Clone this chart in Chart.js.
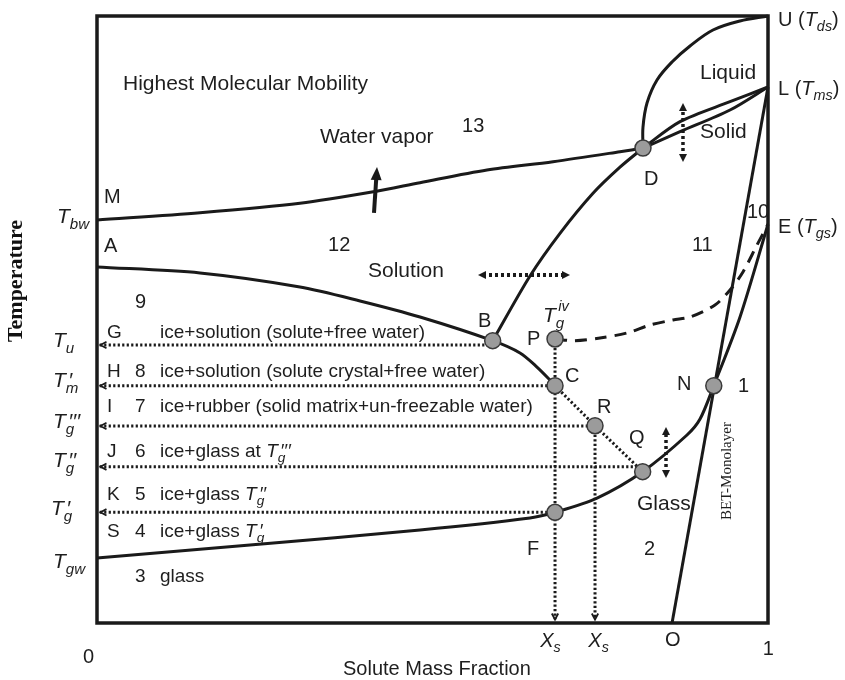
<!DOCTYPE html>
<html><head><meta charset="utf-8">
<script src="https://cdn.jsdelivr.net/npm/chart.js@4.4.0/dist/chart.umd.min.js"></script>
<style>html,body{margin:0;padding:0;background:#fff;}</style>
</head><body>
<canvas id="c" width="845" height="680" style="display:block"></canvas>
<script>
// ---------- DATA (x = solute mass fraction 0..1, y = relative temperature 0..100) ----------
const vaporX = [0, 0.1535, 0.3025, 0.4128, 0.4814, 0.5812, 0.6796, 0.7794, 0.8137];
const vaporY = [66.39, 67.59, 69.14, 71.05, 72.54, 74.63, 76.0, 77.64, 78.25];
const iceX = [0, 0.1535, 0.3025, 0.392, 0.4814, 0.5897, 0.6304, 0.6557, 0.6751, 0.6826];
const iceY = [58.65, 57.66, 55.35, 53.05, 50.41, 46.51, 44.48, 42.17, 40.03, 39.09];
const solX = [0.5897, 0.6453, 0.6900, 0.7392, 0.7794, 0.8137];
const solY = [46.51, 57.17, 64.2, 70.8, 75.1, 78.25];
const liqX = [0.8137, 0.8137, 0.8197, 0.8346, 0.8569, 0.8838, 0.9180, 0.9583, 1.0];
const liqY = [78.25, 81.71, 85.67, 89.46, 92.42, 95.06, 97.69, 99.18, 100];
const meltUpX = [0.8137, 0.8689, 0.9434, 1.0];
const meltUpY = [78.25, 82.59, 85.88, 88.3];
const meltLoX = [0.8137, 0.8689, 0.9434, 1.0];
const meltLoY = [78.25, 80.94, 84.51, 88.3];
const betX = [0.857, 1.0];
const betY = [0, 88.3];
const glassX = [0, 0.228, 0.4814, 0.6453, 0.6826, 0.7452, 0.8132, 0.8793, 0.8987, 0.9192, 0.9583, 1.0];
const glassY = [10.71, 12.85, 15.32, 17.30, 18.24, 20.59, 24.93, 30.97, 33.6, 39.09, 50.41, 65.7];
const tgivX = [0.6826, 0.7124, 0.7496, 0.7899, 0.8241, 0.8584, 0.8838, 0.9210, 0.9434, 0.9627, 0.9836, 1.0];
const tgivY = [46.79, 46.51, 46.95, 47.78, 49.09, 49.92, 50.41, 52.39, 54.86, 57.83, 62.27, 65.7];
// key points B, P, C, R, Q, F, N, D
const ptX = [0.5897, 0.6826, 0.6826, 0.7422, 0.8132, 0.6826, 0.9192, 0.8137];
const ptY = [46.51, 46.79, 39.09, 32.50, 24.93, 18.24, 39.09, 78.25];
// dotted guide lines: horizontal (to the temperature axis)
const guideY = [45.8, 39.09, 32.45, 25.75, 18.24];
const guideXEnd = [0.5897, 0.6826, 0.7422, 0.8132, 0.6826];
// vertical guides (to X_s)
const vGuideX = [0.6826, 0.7422];
const vGuideYTop = [46.79, 32.50];
// diagonal C -> R -> Q
const diagX = [0.6826, 0.7422, 0.8132];
const diagY = [39.09, 32.50, 24.93];
// arrows
const upArrow = [[0.4128, 67.55], [0.4173, 75.12]];
const dblArrows = [[[0.5678, 57.33], [0.7049, 57.33]], [[0.8733, 75.95], [0.8733, 85.67]], [[0.848, 23.89], [0.848, 32.29]]];
// texts
const labels = [
  ["Highest Molecular Mobility", 0.0387, 87.81, 21],
  ["Water vapor", 0.3323, 79.08, 21],
  ["13", 0.5440, 80.89, 20],
  ["Liquid", 0.8987, 89.62, 21],
  ["Solid", 0.8987, 79.90, 21],
  ["D", 0.8152, 72.16, 20],
  ["M", 0.0104, 69.19, 20],
  ["A", 0.0104, 61.12, 20],
  ["12", 0.3443, 61.29, 20],
  ["Solution", 0.4039, 57.00, 21],
  ["11", 0.8867, 61.29, 20],
  ["10", 0.9687, 66.72, 20],
  ["9", 0.0566, 51.89, 20],
  ["B", 0.5678, 48.76, 20],
  ["P", 0.6408, 45.80, 20],
  ["C", 0.6975, 39.70, 20],
  ["R", 0.7452, 34.60, 20],
  ["Q", 0.7928, 29.49, 20],
  ["N", 0.8644, 38.39, 20],
  ["1", 0.9553, 38.06, 20],
  ["Glass", 0.8048, 18.62, 21],
  ["F", 0.6408, 11.20, 20],
  ["2", 0.8152, 11.20, 20],
  ["*T*_{g}^{iv}", 0.6647, 49.6, 21],
  ["U (*T*_{ds})", 1.0149, 98.35, 20],
  ["L (*T*_{ms})", 1.0149, 87.0, 20],
  ["E (*T*_{gs})", 1.0149, 64.25, 20],
  ["*X*_{s}", 0.6605, -3.90, 20],
  ["*X*_{s}", 0.7322, -3.90, 20],
  ["O", 0.8465, -3.79, 20],
  ["1", 0.9921, -5.27, 20],
  ["0", -0.0209, -6.59, 20],
  ["Solute Mass Fraction", 0.3666, -8.57, 20],
  ["*T*_{bw}", -0.0596, 65.90, 21],
  ["*T*_{u}", -0.0656, 45.47, 21],
  ["*T*_{m}^{′}", -0.0656, 38.88, 21],
  ["*T*_{g}^{′′′}", -0.0656, 32.13, 21],
  ["*T*_{g}^{′′}", -0.0656, 25.70, 21],
  ["*T*_{g}^{′}", -0.0686, 17.79, 21],
  ["*T*_{gw}", -0.0656, 9.06, 21]
];
const rowY = [46.95, 40.53, 34.76, 27.35, 20.26, 14.17, 6.75];
const rowLetters = ["G", "H", "I", "J", "K", "S", ""];
const rowNums = ["", "8", "7", "6", "5", "4", "3"];
const rowTexts = ["ice+solution (solute+free water)", "ice+solution (solute crystal+free water)",
  "ice+rubber (solid matrix+un-freezable water)", "ice+glass at *T*_{g}^{′′′}",
  "ice+glass *T*_{g}^{′′}", "ice+glass *T*_{g}^{′}", "glass"];
const rowCols = [0.0149, 0.0566, 0.0939];
const yTitle = ["Temperature", -0.1207, 56.34];
const betLabel = ["BET-Monolayer", 0.9389, 25.04];

// ---------- helpers ----------
const INK = '#1a1a1a';
const SANS = '"Liberation Sans", Arial, Helvetica, sans-serif';
const SERIF = '"Liberation Serif", "Times New Roman", serif';
function pts(xs, ys) { return xs.map((x, i) => ({x: x, y: ys[i]})); }
function line(xs, ys, o) {
  o = o || {};
  return {data: pts(xs, ys), showLine: true, pointRadius: 0, pointHoverRadius: 0,
    borderColor: INK, borderWidth: o.w || 3, tension: o.t || 0, borderDash: o.dash || [],
    borderCapStyle: 'butt', fill: false, clip: false, order: o.order || 1};
}
function drawRich(ctx, str, x, y, size) {
  const toks = str.match(/\*[^*]+\*|_\{[^}]*\}|\^\{[^}]*\}|[^*_^]+/g);
  let cx = x;
  for (let i = 0; i < toks.length; i++) {
    const t = toks[i];
    if (t.startsWith('_{')) {
      const s = t.slice(2, -1), fs = size * 0.72;
      ctx.font = 'italic ' + fs + 'px ' + SANS;
      ctx.fillText(s, cx, y + size * 0.27);
      let w = ctx.measureText(s).width;
      if (toks[i + 1] && toks[i + 1].startsWith('^{')) {
        const sp = toks[i + 1].slice(2, -1);
        const w2 = drawSup(ctx, sp, cx + size * 0.12, y, size) + size * 0.12;
        w = Math.max(w, w2); i++;
      }
      cx += w;
    } else if (t.startsWith('^{')) {
      cx += drawSup(ctx, t.slice(2, -1), cx, y, size);
    } else if (t.startsWith('*')) {
      const s = t.slice(1, -1);
      ctx.font = 'italic ' + size + 'px ' + SANS;
      ctx.fillText(s, cx, y);
      cx += ctx.measureText(s).width;
    } else {
      ctx.font = size + 'px ' + SANS;
      ctx.fillText(t, cx, y);
      cx += ctx.measureText(t).width;
    }
  }
}
function drawSup(ctx, s, x, y, size) {
  if (/^′+$/.test(s)) {
    ctx.font = 'italic ' + (size * 1.0) + 'px ' + SANS;
    ctx.fillText(s, x, y - size * 0.02);
  } else {
    ctx.font = 'italic ' + (size * 0.7) + 'px ' + SANS;
    ctx.fillText(s, x, y - size * 0.5);
  }
  return ctx.measureText(s).width;
}
function head(ctx, tx, ty, ang, len, half, filled, lw) {
  const c = Math.cos(ang), s = Math.sin(ang);
  const bx = tx - len * c, by = ty - len * s;
  ctx.beginPath();
  ctx.moveTo(bx - half * s, by + half * c);
  ctx.lineTo(tx, ty);
  ctx.lineTo(bx + half * s, by - half * c);
  ctx.setLineDash([]);
  if (filled) { ctx.closePath(); ctx.fill(); }
  else { ctx.lineWidth = lw || 1.8; ctx.stroke(); }
}

const annot = {
  id: 'annot',
  afterDatasetsDraw(chart) {
    const ctx = chart.ctx, a = chart.chartArea;
    const X = v => chart.scales.x.getPixelForValue(v), Y = v => chart.scales.y.getPixelForValue(v);
    ctx.save();
    ctx.strokeStyle = INK; ctx.fillStyle = INK;
    // frame
    ctx.lineWidth = 3.5; ctx.setLineDash([]);
    ctx.strokeRect(a.left, a.top, a.right - a.left, a.bottom - a.top);
    // left arrowheads of horizontal guides
    guideY.forEach(gy => head(ctx, X(0) + 3.5, Y(gy), Math.PI, 6, 3.2, false, 1.8));
    // down arrowheads of vertical guides
    vGuideX.forEach(gx => head(ctx, X(gx), Y(0) - 3.5, Math.PI / 2, 6, 3.2, false, 1.8));
    // solid up arrow
    {
      const x0 = X(upArrow[0][0]), y0 = Y(upArrow[0][1]), x1 = X(upArrow[1][0]), y1 = Y(upArrow[1][1]);
      const ang = Math.atan2(y1 - y0, x1 - x0);
      ctx.lineWidth = 4; ctx.beginPath(); ctx.moveTo(x0, y0);
      ctx.lineTo(x1 - 10 * Math.cos(ang), y1 - 10 * Math.sin(ang)); ctx.stroke();
      head(ctx, x1, y1, ang, 13, 5.5, true);
    }
    // dotted double arrows
    dblArrows.forEach((d, k) => {
      const x0 = X(d[0][0]), y0 = Y(d[0][1]), x1 = X(d[1][0]), y1 = Y(d[1][1]);
      const ang = Math.atan2(y1 - y0, x1 - x0), c = Math.cos(ang), s = Math.sin(ang);
      ctx.lineWidth = k === 0 ? 4 : 3.5; ctx.setLineDash([3, 3]);
      ctx.beginPath(); ctx.moveTo(x0 + 5 * c, y0 + 5 * s); ctx.lineTo(x1 - 5 * c, y1 - 5 * s); ctx.stroke();
      head(ctx, x1, y1, ang, 8, 4, true);
      head(ctx, x0, y0, ang + Math.PI, 8, 4, true);
    });
    // texts
    ctx.textBaseline = 'alphabetic'; ctx.textAlign = 'left'; ctx.fillStyle = '#1e1e1e';
    labels.forEach(l => drawRich(ctx, l[0], X(l[1]), Y(l[2]), l[3]));
    rowY.forEach((ry, i) => {
      if (rowLetters[i]) drawRich(ctx, rowLetters[i], X(rowCols[0]), Y(ry), 19);
      if (rowNums[i]) drawRich(ctx, rowNums[i], X(rowCols[1]), Y(ry), 19);
      drawRich(ctx, rowTexts[i], X(rowCols[2]), Y(ry), 19);
    });
    // rotated texts
    ctx.textAlign = 'center'; ctx.textBaseline = 'middle';
    ctx.save(); ctx.translate(X(yTitle[1]), Y(yTitle[2])); ctx.rotate(-Math.PI / 2);
    ctx.font = 'bold 22px ' + SERIF; ctx.fillStyle = '#111'; ctx.fillText(yTitle[0], 0, 0); ctx.restore();
    ctx.save(); ctx.translate(X(betLabel[1]), Y(betLabel[2])); ctx.rotate(-Math.PI / 2);
    ctx.font = '15px ' + SERIF; ctx.fillText(betLabel[0], 0, 0); ctx.restore();
    ctx.restore();
  }
};

const DOT = [2.2, 2.3];
const datasets = [
  {data: pts(ptX, ptY), showLine: false, pointRadius: 8, pointHoverRadius: 8,
    backgroundColor: '#9b9b9b', borderColor: '#3a3a3a', borderWidth: 1.5, clip: false, order: -1},
  line(vaporX, vaporY, {t: 0.3}),
  line(iceX, iceY, {t: 0.3}),
  line(solX, solY, {t: 0.3}),
  line(liqX, liqY, {t: 0.35}),
  line(meltUpX, meltUpY, {t: 0.3}),
  line(meltLoX, meltLoY, {t: 0.3}),
  line(betX, betY),
  line(glassX, glassY, {t: 0.3}),
  line(tgivX, tgivY, {t: 0.3, dash: [12, 8]}),
  line(diagX, diagY, {dash: DOT, w: 3})
];
guideY.forEach((gy, i) => datasets.push(line([0.004, guideXEnd[i]], [gy, gy], {dash: DOT, w: 3})));
vGuideX.forEach((gx, i) => datasets.push(line([gx, gx], [vGuideYTop[i], 0.6], {dash: DOT, w: 3})));

new Chart(document.getElementById('c'), {
  type: 'scatter',
  data: {datasets: datasets},
  options: {
    responsive: false, animation: false, devicePixelRatio: 1,
    layout: {padding: {left: 97, top: 16, right: 77, bottom: 57}},
    scales: {
      x: {type: 'linear', min: 0, max: 1, display: false},
      y: {type: 'linear', min: 0, max: 100, display: false}
    },
    plugins: {legend: {display: false}, tooltip: {enabled: false}},
    events: []
  },
  plugins: [annot]
});
</script>
</body></html>
